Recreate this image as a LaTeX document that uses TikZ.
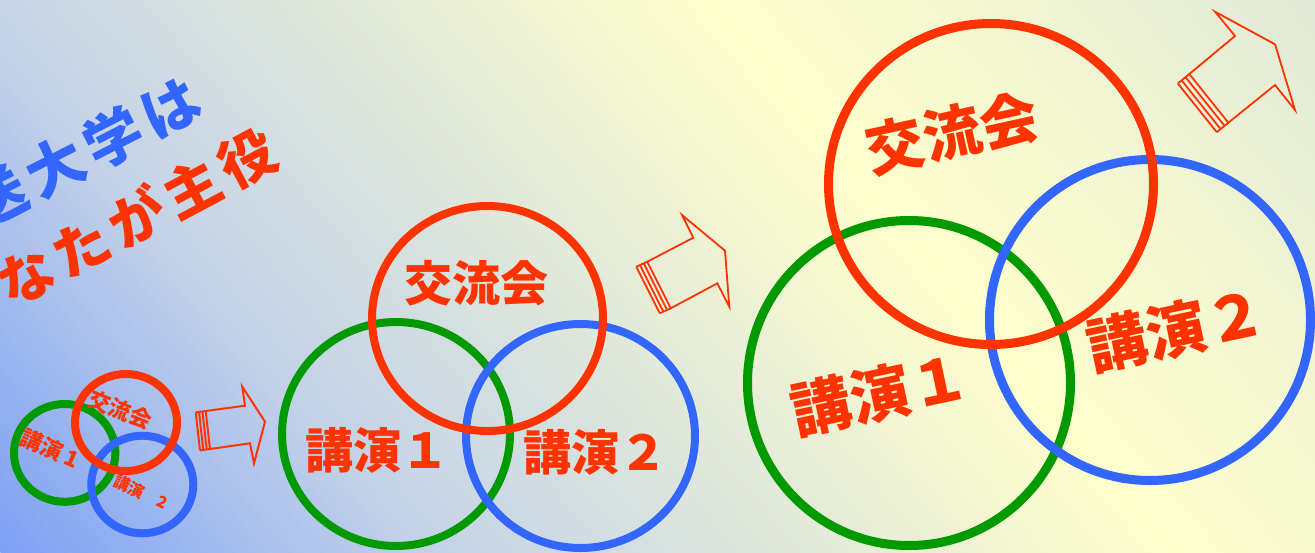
\documentclass[tikz,border=0pt]{standalone}
\usepackage{fontspec}
\newfontfamily\jp{Noto Sans CJK JP}
\usetikzlibrary{calc,shapes.geometric}
\definecolor{cred}{RGB}{255,51,0}
\definecolor{cblue}{RGB}{51,102,255}
\definecolor{cgreen}{RGB}{0,153,0}
\tikzset{
  ring/.style={draw=#1, ellipse, inner sep=0pt, outer sep=0pt},
  lbl/.style={text=cred, inner sep=0pt, outer sep=0pt},
  arrowline/.style={draw=cred, line width=0.9pt},
}
\newcommand\jpsize[1]{\jp\bfseries\fontsize{#1}{#1}\selectfont}
\newcommand\ls{\hspace{0.12em}}
\begin{document}
\begin{tikzpicture}[x=0.5pt,y=-0.5pt]
\useasboundingbox (0,0) rectangle (1315,552);
\clip (0,0) rectangle (1315,552);
% background gradient
\foreach \i in {0,...,159}{
  \pgfmathsetmacro\bgt{(\i+0.5)/160}
  \pgfmathsetmacro\bgr{ifthenelse(\bgt<0.24, 125+70*\bgt/0.24, ifthenelse(\bgt<0.66, 195+60*(\bgt-0.24)/0.42, 255-29*(\bgt-0.66)/0.34))/255}
  \pgfmathsetmacro\bgg{ifthenelse(\bgt<0.24, 160+50*\bgt/0.24, ifthenelse(\bgt<0.66, 210+45*(\bgt-0.24)/0.42, 255-21*(\bgt-0.66)/0.34))/255}
  \pgfmathsetmacro\bgb{ifthenelse(\bgt<0.24, 245-13*\bgt/0.24, ifthenelse(\bgt<0.66, 232-28*(\bgt-0.24)/0.42, 204+12*(\bgt-0.66)/0.34))/255}
  \pgfmathsetmacro\bga{\i/160*1361.3}
  \pgfmathsetmacro\bgc{(\i+1.5)/160*1361.3}
  \definecolor{bgcol}{rgb}{\bgr,\bgg,\bgb}
  \fill[bgcol] ($(0,552)+\bga*(0.7648,-0.6442)+600*(-0.6442,-0.7648)$)
            -- ($(0,552)+\bgc*(0.7648,-0.6442)+600*(-0.6442,-0.7648)$)
            -- ($(0,552)+\bgc*(0.7648,-0.6442)+1000*(0.6442,0.7648)$)
            -- ($(0,552)+\bga*(0.7648,-0.6442)+1000*(0.6442,0.7648)$) -- cycle;
}
% title text
\node[text=cblue, inner sep=0pt, rotate=27, font=\jpsize{29pt}] (title1) at (55,167) {放\ls 送\ls 大\ls 学\ls は};
\node[lbl, rotate=28, font=\jpsize{28pt}] (title2) at (109,232) {あ\ls な\ls た\ls が\ls 主\ls 役};
% small group
\node[ring=cgreen, line width=4pt, minimum width=50.7pt, minimum height=48.9pt] (sg) at (64.7,452.9) {};
\node[ring=cblue, line width=4pt, minimum width=51pt, minimum height=48.8pt] (sb) at (142.3,484.5) {};
\node[ring=cred, line width=4pt, minimum width=51pt, minimum height=48.5pt] (sr) at (126,422.5) {};
\node[lbl, rotate=-22, font=\jpsize{11pt}] (st1) at (120,410) {交流会};
\node[lbl, rotate=-24, font=\jpsize{11pt}] (st2) at (50,449) {講演 1};
\node[lbl, rotate=-25, font=\jpsize{8pt}] (st3) at (141,492) {講演\hspace{1em}2};
% middle group
\node[ring=cgreen, line width=4pt, minimum width=114pt, minimum height=112pt] (mg) at (396,434) {};
\node[ring=cblue, line width=4pt, minimum width=114.5pt, minimum height=112pt] (mb) at (580.5,436) {};
\node[ring=cred, line width=4pt, minimum width=115.5pt, minimum height=112.5pt] (mr) at (487.5,318.5) {};
\node[lbl, font=\jpsize{24pt}] (mt1) at (476,283) {交流会};
\node[lbl, font=\jpsize{24pt}] (mt2) at (377,450) {講演１};
\node[lbl, font=\jpsize{24pt}] (mt3) at (595,452) {講演２};
% big group
\node[ring=cgreen, line width=4.5pt, minimum width=161.5pt, minimum height=162.5pt] (bg) at (909,383) {};
\node[ring=cblue, line width=4.5pt, minimum width=160.5pt, minimum height=160.5pt] (bb) at (1150,320) {};
\node[ring=cred, line width=4.5pt, minimum width=162.5pt, minimum height=160.5pt] (br) at (991,184) {};
\node[lbl, rotate=12.5, font=\jpsize{29pt}] (bt1) at (952,133) {交流会};
\node[lbl, rotate=12, font=\jpsize{30pt}] (bt2) at (880,394) {講演１};
\node[lbl, rotate=12, font=\jpsize{30pt}] (bt3) at (1176,330) {講演２};
% arrow 1
\coordinate (a1t) at (205.7,411);
\coordinate (a1b) at (210,449);
\draw[arrowline, line width=1pt] (a1t) -- (245,405.7) -- (242.3,386.7) -- (265,421.7) -- (254,463.3) -- (250,443.3) -- (a1b) -- cycle;
\foreach \k in {0.33,0.67,1}
  \draw[arrowline, line width=1pt] ($(a1t)+\k*(-10,1.3)$) -- ($(a1b)+\k*(-10,1.3)$);
\draw[arrowline, line width=1pt] (a1t) -- ($(a1t)+(-10,1.3)$) (a1b) -- ($(a1b)+(-10,1.3)$);
% arrow 2
\coordinate (a2t) at (647.3,261.7);
\coordinate (a2b) at (670.7,308.3);
\draw[arrowline] (a2t) -- (693.3,237.7) -- (682,215) -- (725,250.7) -- (729.3,306.7) -- (717.3,283.3) -- (a2b) -- cycle;
\foreach \k in {0.33,0.67,1}
  \draw[arrowline] ($(a2t)+\k*(-11,5)$) -- ($(a2b)+\k*(-11,5)$);
\draw[arrowline] (a2t) -- ($(a2t)+(-11,5)$) (a2b) -- ($(a2b)+(-11,5)$);
% arrow 3
\coordinate (a3t) at (1189.3,74);
\coordinate (a3b) at (1228.3,122.7);
\draw[arrowline] (a3t) -- (1235,36) -- (1215,11.7) -- (1275,44.3) -- (1295,110) -- (1275,85) -- (a3b) -- cycle;
\foreach \k in {0.33,0.67,1}
  \draw[arrowline] ($(a3t)+\k*(-11.5,9.5)$) -- ($(a3b)+\k*(-11.5,9.5)$);
\draw[arrowline] (a3t) -- ($(a3t)+(-11.5,9.5)$) (a3b) -- ($(a3b)+(-11.5,9.5)$);
\end{tikzpicture}
\end{document}
